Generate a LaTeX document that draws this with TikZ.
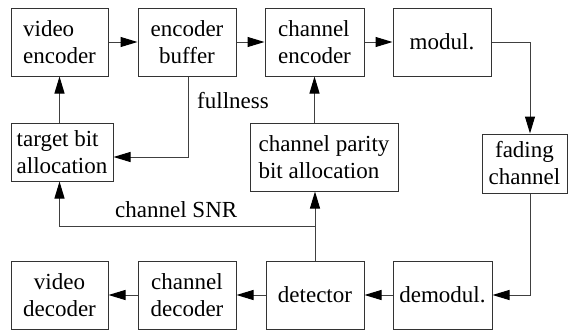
\documentclass[tikz,border=0pt]{standalone}
\usepackage{fontspec}
\setmainfont{Liberation Serif}
\usetikzlibrary{arrows.meta}
\begin{document}
\begin{tikzpicture}[x=1pt,y=-1pt,
  box/.style={draw=black!80,line width=1pt,inner sep=0pt,font=\fontsize{23}{27}\selectfont},
  arr/.style={draw=black!75,line width=1pt,-{Triangle[length=17pt,width=10pt,color=black]}},
  lbl/.style={font=\fontsize{23}{27}\selectfont,inner sep=0pt}]
\useasboundingbox (0,0) rectangle (571,330);
% transmitter chain
\node[box,minimum width=97pt,minimum height=68pt,align=left] (venc) at (59.5,42) {video\\encoder};
\node[box,minimum width=98pt,minimum height=68pt,align=center] (ebuf) at (187,42) {encoder\\buffer};
\node[box,minimum width=99pt,minimum height=68pt,align=left] (cenc) at (314.5,42) {channel\\encoder};
\node[box,minimum width=98pt,minimum height=68pt] (mod) at (442,42) {modul.};
% control blocks
\node[box,minimum width=102pt,minimum height=58pt,align=left] (tba) at (62,152) {target bit\\allocation};
\node[box,minimum width=148pt,minimum height=68pt,align=left] (cpba) at (324,157) {channel parity\\bit allocation};
\node[box,minimum width=85pt,minimum height=59pt,align=center] (fad) at (524.5,163.5) {fading\\channel};
% receiver chain
\node[box,minimum width=97pt,minimum height=68pt,align=center] (vdec) at (59.5,295) {video\\decoder};
\node[box,minimum width=98pt,minimum height=68pt,align=center] (cdec) at (187,295) {channel\\decoder};
\node[box,minimum width=98pt,minimum height=68pt] (det) at (315,295) {detector};
\node[box,minimum width=99pt,minimum height=68pt] (demod) at (442.5,295) {demodul.};
% helper points
\coordinate (rx) at (530,0);
\coordinate (snr) at (315,226);
\coordinate (fb) at (188,157);
% forward path
\draw[arr] (venc) -- (ebuf);
\draw[arr] (ebuf) -- (cenc);
\draw[arr] (cenc) -- (mod);
\draw[arr] (mod.east) -| (fad.north -| rx);
\draw[arr] (fad.south -| rx) |- (demod.east);
\draw[arr] (demod) -- (det);
\draw[arr] (det) -- (cdec);
\draw[arr] (cdec) -- (vdec);
% feedback paths
\draw[arr] (ebuf.south -| fb) |- (tba.east |- fb);
\draw[arr] (tba.north -| venc.south) -- (venc.south);
\draw[arr] (cpba.north -| cenc.south) -- (cenc.south);
\draw[arr] (det.north) -- (cpba.south -| det.north);
\draw[arr] (snr) -| (tba.south -| venc.south);
% labels
\node[lbl,anchor=west] (lfull) at (197,101) {fullness};
\node[lbl,anchor=west] (lsnr) at (115,210) {channel SNR};
\end{tikzpicture}
\end{document}
